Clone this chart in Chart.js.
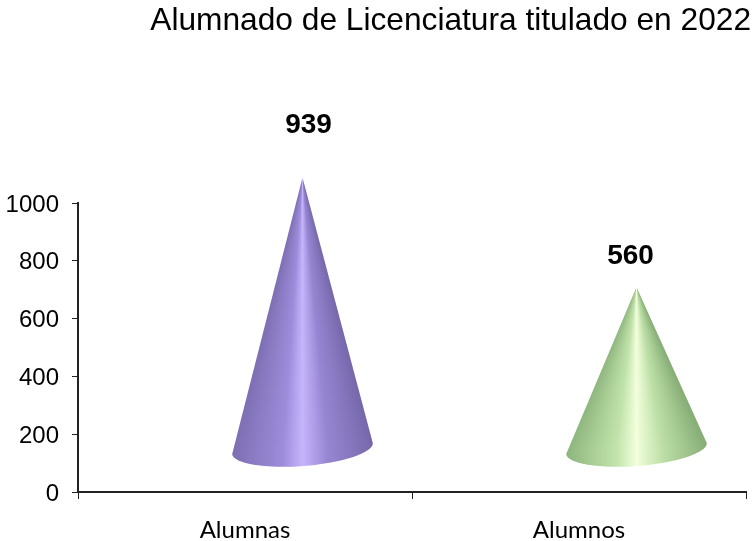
<!DOCTYPE html>
<html><head><meta charset="utf-8">
<style>html,body{margin:0;padding:0;background:#fff}#w{width:755px;height:541px}</style>
<script src="https://cdn.jsdelivr.net/npm/chart.js@4/dist/chart.umd.min.js"></script>
</head><body><div id="w"><canvas id="c" width="755" height="541"></canvas></div>
<script>
const categories = ["Alumnas", "Alumnos"];
const values = [939, 560];
const yTicks = [0, 200, 400, 600, 800, 1000];
const titleText = "Alumnado de Licenciatura titulado en 2022";
const coneShades = [
  ['#7d6eb2','#9c8cda','#c6b4fc','#9686d2','#7768ac'],
  ['#8cb47c','#c2e4ac','#f2ffdc','#bee0a8','#86ae76']
];
const shadePos = [0,0.36,0.5,0.68,1];
const labelShift = [[6,-52],[-6,-31]];
const depth=43, tilt=-4.5*Math.PI/180, minor=17.5, cxShift=57.5;
const conePlugin={
  id:'cones',
  afterLayout(chart){ chart.titleBlock.right=751; },
  beforeDatasetDraw(chart,args){
    const ctx=chart.ctx;
    const meta=chart.getDatasetMeta(args.index);
    meta.data.forEach((el,i)=>{
      const {x,y,base,width}=el.getProps(['x','y','base','width'],true);
      const cx=x+cxShift, cy=base-depth, ay=y-depth, a=width/2, st=coneShades[i];
      ctx.save();
      ctx.beginPath();
      ctx.moveTo(cx,ay);
      ctx.lineTo(cx+a*Math.cos(tilt),cy+a*Math.sin(tilt));
      ctx.ellipse(cx,cy,a,minor,tilt,0,Math.PI,false);
      ctx.closePath();
      ctx.clip();
      const bottom=Math.ceil(cy+minor+8);
      for(let r=Math.floor(ay);r<bottom;r++){
        const hw=Math.max(1,a*Math.min(1,(r+0.5-ay)/(cy-ay)));
        const g=ctx.createLinearGradient(cx-hw,0,cx+hw,0);
        st.forEach((c,k)=>g.addColorStop(shadePos[k],c));
        ctx.fillStyle=g;
        ctx.fillRect(cx-a-3,r,2*a+6,1.2);
      }
      ctx.restore();
    });
    return false;
  },
  afterDatasetsDraw(chart){
    const ctx=chart.ctx, meta=chart.getDatasetMeta(0);
    ctx.save();
    ctx.font='bold 28px "Liberation Sans"';ctx.fillStyle='#000';ctx.textAlign='center';ctx.textBaseline='middle';
    meta.data.forEach((el,i)=>{
      ctx.fillText(String(values[i]), el.x+cxShift+labelShift[i][0], el.y-depth+labelShift[i][1]);
    });
    ctx.restore();
  }
};
new Chart(document.getElementById('c'),{
  type:'bar',
  data:{labels:categories,datasets:[{data:values,backgroundColor:['#9a86d0','#b8dc98'],categoryPercentage:1,barPercentage:0.422}]},
  plugins:[conePlugin],
  options:{
    responsive:false,animation:false,
    layout:{padding:{left:0,right:9,top:0,bottom:0}},
    plugins:{
      legend:{display:false},tooltip:{enabled:false},
      title:{display:true,text:titleText,align:'end',color:'#000',
        font:{family:'"Liberation Sans"',size:31.7,weight:'normal'},
        padding:{top:2,bottom:163}}
    },
    scales:{
      x:{
        offset:true,
        afterFit(s){s.height=49;},
        border:{color:'#222',width:2},
        grid:{display:true,drawOnChartArea:false,drawTicks:true,tickLength:7,color:'#222',offset:true},
        ticks:{color:'#000',padding:17,font:{family:'Lato',size:24}}
      },
      y:{
        min:0,max:1000,
        afterBuildTicks(s){s.ticks=yTicks.map(v=>({value:v}));},
        afterFit(s){s.width=78;},
        border:{color:'#222',width:2},
        grid:{display:true,drawOnChartArea:false,drawTicks:true,tickLength:6,color:'#222'},
        ticks:{color:'#000',padding:13,labelOffset:2,callback:v=>String(v),font:{family:'"Liberation Sans"',size:24}}
      }
    }
  }
});
</script></body></html>
